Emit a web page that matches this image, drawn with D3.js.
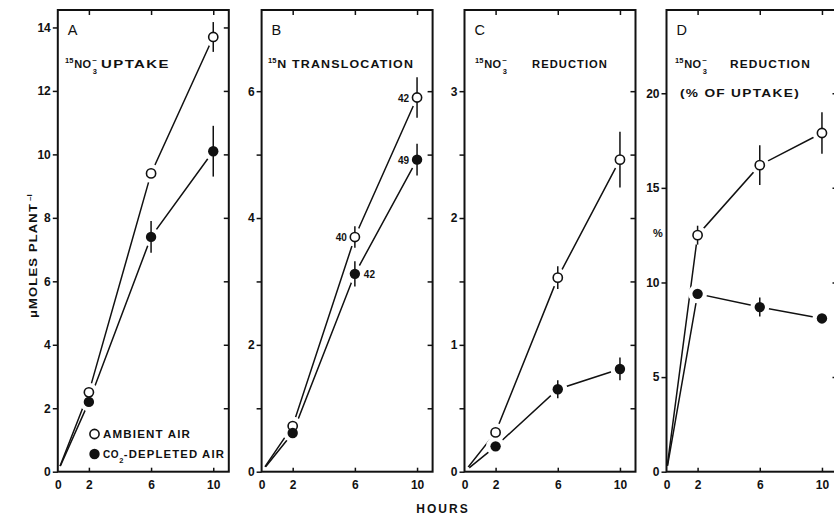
<!DOCTYPE html>
<html>
<head>
<meta charset="utf-8">
<script src="https://cdn.jsdelivr.net/npm/d3@7"></script>
<style>
  body { margin: 0; background: #fff; }
  text { font-family: "Liberation Sans", Arial, sans-serif; font-weight: bold; fill: #111; }
</style>
</head>
<body>
<svg id="chart" width="834" height="519"></svg>
<script>
// hours of exposure, shared by every panel
const hours = [0, 2, 6, 10];
const xTicks = [0, 2, 6, 10];

// A: 15NO3- uptake (umoles / plant)
const uptakeAmbient = [0, 2.5, 9.4, 13.7];
const uptakeAmbientErr = [0, 0, 0, 0.47];
const uptakeDepleted = [0, 2.2, 7.4, 10.1];
const uptakeDepletedErr = [0, 0, 0.5, 0.8];

// B: 15N translocation
const transAmbient = [0, 0.72, 3.7, 5.9];
const transAmbientErr = [0, 0, 0.17, 0.32];
const transDepleted = [0, 0.61, 3.12, 4.92];
const transDepletedErr = [0, 0, 0.2, 0.25];
const transAmbientNotes = [null, null, '40', '42'];
const transDepletedNotes = [null, null, '42', '49'];

// C: 15NO3- reduction
const redAmbient = [0, 0.31, 1.53, 2.46];
const redAmbientErr = [0, 0, 0.09, 0.22];
const redDepleted = [0, 0.2, 0.65, 0.81];
const redDepletedErr = [0, 0, 0.07, 0.09];

// D: reduction as % of uptake
const pctAmbient = [0, 12.5, 16.2, 17.9];
const pctAmbientErr = [0, 0.5, 1.05, 1.1];
const pctDepleted = [0, 9.4, 8.7, 8.1];
const pctDepletedErr = [0, 0, 0.5, 0];

// y ticks
const ticksA = [0, 2, 4, 6, 8, 10, 12, 14];
const ticksB = [0, 1, 2, 3, 4, 5, 6];
const labelsB = [0, 2, 4, 6];
const ticksC = [0, 0.5, 1, 1.5, 2, 2.5, 3];
const labelsC = [0, 1, 2, 3];
const ticksD = [0, 5, 10, 15, 20];

const legendLabels = ['AMBIENT AIR', 'DEPLETED AIR'];

const svg = d3.select('#chart');
const plotTop = 10, plotBottom = 471.7, panelW = 171;

const panels = [
  { id: 'A', left: 57.8, yMax: 14.55, ticks: ticksA, labels: ticksA, rightTicks: ticksA.slice(1),
    amb: uptakeAmbient, ambErr: uptakeAmbientErr, dep: uptakeDepleted, depErr: uptakeDepletedErr },
  { id: 'B', left: 261.6, yMax: 7.28, ticks: ticksB, labels: labelsB, rightTicks: ticksB.slice(1),
    amb: transAmbient, ambErr: transAmbientErr, dep: transDepleted, depErr: transDepletedErr },
  { id: 'C', left: 464.5, yMax: 3.64, ticks: ticksC, labels: labelsC, rightTicks: ticksC.slice(1),
    amb: redAmbient, ambErr: redAmbientErr, dep: redDepleted, depErr: redDepletedErr },
  { id: 'D', left: 666.5, yMax: 24.4, ticks: ticksD, labels: ticksD, rightTicks: ticksD.slice(1),
    amb: pctAmbient, ambErr: pctAmbientErr, dep: pctDepleted, depErr: pctDepletedErr }
];

panels.forEach(p => {
  const x = d3.scaleLinear().domain([0, 11]).range([p.left, p.left + panelW]);
  const y = d3.scaleLinear().domain([0, p.yMax]).range([plotBottom, plotTop]);
  const g = svg.append('g').attr('class', 'panel-' + p.id);
  const series = [
    { vals: p.amb, err: p.ambErr, open: true },
    { vals: p.dep, err: p.depErr, open: false }
  ];

  const line = d3.line().x((d, i) => x(hours[i])).y(d => y(d));
  series.forEach(s => {
    g.append('path').datum(s.vals).attr('d', line)
      .attr('fill', 'none').attr('stroke', '#111').attr('stroke-width', 1.5);
  });

  // white halos make the little gaps between lines and markers
  series.forEach(s => {
    g.selectAll(null).data(s.vals).enter().append('circle')
      .attr('cx', (d, i) => x(hours[i])).attr('cy', d => y(d))
      .attr('r', (d, i) => i === 0 ? 6 : 9.5).attr('fill', '#fff');
  });

  // frame
  g.append('rect').attr('x', x(0)).attr('y', plotTop)
    .attr('width', panelW).attr('height', plotBottom - plotTop)
    .attr('fill', 'none').attr('stroke', '#111').attr('stroke-width', 2);

  // axes
  const yLeft = d3.axisLeft(y).tickValues(p.ticks).tickSize(5)
    .tickFormat(d => p.labels.includes(d) ? d : '');
  g.append('g').attr('transform', `translate(${x(0)},0)`).call(yLeft)
    .call(a => a.select('.domain').remove())
    .call(a => a.selectAll('line').attr('stroke', '#111').attr('stroke-width', 1.5))
    .call(a => a.selectAll('text').attr('x', -7).attr('font-size', 12).attr('font-family', null));
  const yRight = d3.axisLeft(y).tickValues(p.rightTicks).tickSize(5).tickFormat('');
  g.append('g').attr('transform', `translate(${x(0) + panelW},0)`).call(yRight)
    .call(a => a.select('.domain').remove())
    .call(a => a.selectAll('line').attr('x2', -5).attr('stroke', '#111').attr('stroke-width', 1.5));
  const xTop = d3.axisBottom(x).tickValues(xTicks.slice(1)).tickSize(5).tickFormat('');
  g.append('g').attr('transform', `translate(0,${plotTop})`).call(xTop)
    .call(a => a.select('.domain').remove())
    .call(a => a.selectAll('line').attr('stroke', '#111').attr('stroke-width', 1.5));
  const xBotTicks = d3.axisTop(x).tickValues(xTicks.slice(1)).tickSize(4).tickFormat('');
  g.append('g').attr('transform', `translate(0,${plotBottom})`).call(xBotTicks)
    .call(a => a.select('.domain').remove())
    .call(a => a.selectAll('line').attr('stroke', '#111').attr('stroke-width', 1.5));
  const xBot = d3.axisBottom(x).tickValues(xTicks).tickSize(0);
  g.append('g').attr('transform', `translate(0,${plotBottom})`).call(xBot)
    .call(a => a.select('.domain').remove())
    .call(a => a.selectAll('text').attr('y', 9).attr('font-size', 12).attr('font-family', null));

  // error bars
  series.forEach(s => {
    g.selectAll(null).data(s.vals.map((v, i) => ({ v, e: s.err[i], h: hours[i] })).filter(d => d.e > 0))
      .enter().append('line')
      .attr('x1', d => x(d.h)).attr('x2', d => x(d.h))
      .attr('y1', d => y(d.v - d.e)).attr('y2', d => y(d.v + d.e))
      .attr('stroke', '#111').attr('stroke-width', 1.5);
  });

  // markers
  series.forEach(s => {
    g.selectAll(null).data(s.vals.slice(1)).enter().append('circle')
      .attr('cx', (d, i) => x(hours[i + 1])).attr('cy', d => y(d))
      .attr('r', s.open ? 4.6 : 5.2)
      .attr('fill', s.open ? '#fff' : '#111')
      .attr('stroke', '#111').attr('stroke-width', s.open ? 1.6 : 0);
  });

  // panel letter
  g.append('text').attr('x', x(0) + 10).attr('y', 35)
    .attr('font-size', 14.5).style('font-weight', 'normal').text(p.id);

  p.x = x; p.y = y; p.g = g;
});

// wide hand lettering: stretch the glyphs over the measured width
function lettered(g, x0, yb, size, width, str) {
  return g.append('text').attr('x', x0).attr('y', yb).attr('font-size', size)
    .attr('letter-spacing', 1).attr('textLength', width)
    .attr('lengthAdjust', 'spacingAndGlyphs').text(str);
}

// titles with the isotope / ion notation
function no3Title(g, x15, suffixX, suffixW, suffix) {
  const t15 = g.append('text').attr('x', x15).attr('y', 63).attr('font-size', 7.5).text('15');
  const xNO = x15 + t15.node().getComputedTextLength() + 0.8;
  const no = g.append('text').attr('x', xNO).attr('y', 68).attr('font-size', 11)
    .attr('letter-spacing', 0.5).text('NO');
  const xs = xNO + no.node().getComputedTextLength() + 0.5;
  g.append('text').attr('x', xs).attr('y', 61.5).attr('font-size', 8).text('\u2013');
  g.append('text').attr('x', xs + 0.5).attr('y', 73.5).attr('font-size', 7.5).text('3');
  lettered(g, suffixX, 68, 10.5, suffixW, suffix);
}

no3Title(panels[0].g, 65, 101, 69, 'UPTAKE');
no3Title(panels[2].g, 475, 532, 76, 'REDUCTION');
no3Title(panels[3].g, 675, 730, 81, 'REDUCTION');
lettered(panels[3].g, 680, 97, 10.5, 120, '(% OF UPTAKE)');

{
  const g = panels[1].g;
  const t15 = g.append('text').attr('x', 268).attr('y', 63).attr('font-size', 7.5).text('15');
  lettered(g, 268 + t15.node().getComputedTextLength() + 0.8, 68, 10.5, 137, 'N TRANSLOCATION');
}

// sample-size notes in panel B
{
  const p = panels[1];
  transAmbientNotes.forEach((n, i) => {
    if (!n) return;
    p.g.append('text').attr('x', p.x(hours[i]) - 8).attr('y', p.y(transAmbient[i]) + 4)
      .attr('text-anchor', 'end').attr('font-size', 10).text(n);
  });
  transDepletedNotes.forEach((n, i) => {
    if (!n) return;
    const right = i === 2;
    p.g.append('text').attr('x', p.x(hours[i]) + (right ? 9 : -8)).attr('y', p.y(transDepleted[i]) + 4)
      .attr('text-anchor', right ? 'start' : 'end').attr('font-size', 10).text(n);
  });
}

// legend in panel A
{
  const g = panels[0].g;
  g.append('circle').attr('cx', 94.5).attr('cy', 434).attr('r', 4.6)
    .attr('fill', '#fff').attr('stroke', '#111').attr('stroke-width', 1.6);
  lettered(g, 103, 438, 10, 88, legendLabels[0]);
  g.append('circle').attr('cx', 94.5).attr('cy', 454).attr('r', 5.2).attr('fill', '#111');
  const co = g.append('text').attr('x', 103).attr('y', 458).attr('font-size', 10)
    .attr('letter-spacing', 0.5).text('CO');
  const xs = 103 + co.node().getComputedTextLength() + 0.3;
  g.append('text').attr('x', xs).attr('y', 463).attr('font-size', 7.5).text('2');
  lettered(g, xs + 4.5, 458, 10, 225 - xs - 4.5, '-' + legendLabels[1]);
}

// axis titles
{
  const g = svg.append('g').attr('transform', 'translate(37,318) rotate(-90)');
  lettered(g, 0, 0, 11, 115, '\u03BCMOLES PLANT');
  g.append('text').attr('x', 117).attr('y', -5).attr('font-size', 8).text('\u2013I');
}
svg.append('text').attr('x', 443).attr('y', 513).attr('text-anchor', 'middle')
  .attr('font-size', 12).attr('letter-spacing', 2).text('HOURS');
svg.append('text').attr('x', 658).attr('y', 237).attr('text-anchor', 'middle')
  .attr('font-size', 11).text('%');
</script>
</body>
</html>
